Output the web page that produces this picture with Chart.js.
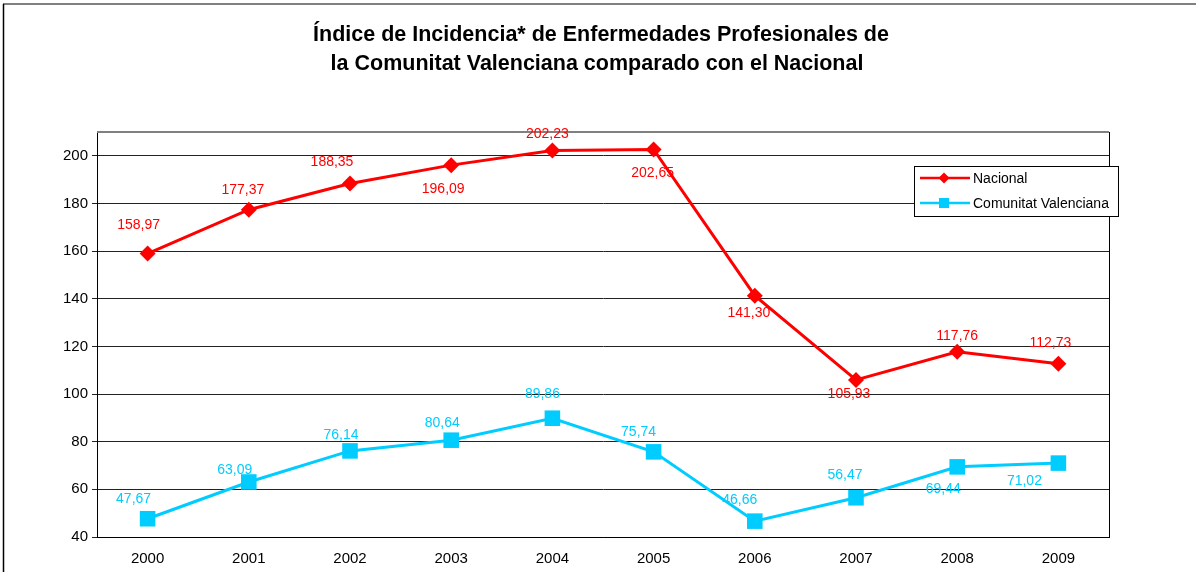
<!DOCTYPE html>
<html>
<head>
<meta charset="utf-8">
<script src="https://cdn.jsdelivr.net/npm/chart.js@4"></script>
<style>
  html, body { margin: 0; padding: 0; background: #fff; }
  #wrap { width: 1196px; height: 572px; position: relative; }
</style>
</head>
<body>
<div id="wrap"><canvas id="myChart" width="1196" height="572"></canvas></div>
<script>
const years = ['2000', '2001', '2002', '2003', '2004', '2005', '2006', '2007', '2008', '2009'];
const nacional = [158.97, 177.37, 188.35, 196.09, 202.23, 202.65, 141.30, 105.93, 117.76, 112.73];
const valenciana = [47.67, 63.09, 76.14, 80.64, 89.86, 75.74, 46.66, 56.47, 69.44, 71.02];
const yTicks = [40, 60, 80, 100, 120, 140, 160, 180, 200];

const titleLines = [
    'Índice de Incidencia* de Enfermedades Profesionales de',
    'la Comunitat Valenciana comparado con el Nacional'
];

const FONT = '"Liberation Sans", Arial, sans-serif';
const RED = '#ff0000';
const CYAN = '#00ccff';

// where each value label sits relative to its point (px)
const labelOffsets = [
    [[-9, -28], [-6, -20], [-18, -21], [-8, 24], [-5, -16], [-1, 24], [-6, 17], [-7, 14], [0, -16], [-8, -21]],
    [[-14, -20], [-14, -12], [-9, -16], [-9, -17], [-10, -24], [-15, -20], [-15, -21], [-11, -23], [-14, 22], [-34, 18]]
];

function fmt(v) {
    return v.toFixed(2).replace('.', ',');
}

const decorPlugin = {
    id: 'decor',
    beforeDraw(chart) {
        const ctx = chart.ctx;
        ctx.save();
        // outer frame
        ctx.strokeStyle = '#808080';
        ctx.lineWidth = 2;
        ctx.beginPath();
        ctx.moveTo(3, 4);
        ctx.lineTo(1196, 4);
        ctx.stroke();
        ctx.strokeStyle = '#000';
        ctx.lineWidth = 1.5;
        ctx.beginPath();
        ctx.moveTo(3.5, 4);
        ctx.lineTo(3.5, 572);
        ctx.stroke();

        // title
        ctx.fillStyle = '#000';
        ctx.font = 'bold 21.5px ' + FONT;
        ctx.textAlign = 'center';
        ctx.textBaseline = 'middle';
        ctx.fillText(titleLines[0], 601, 35);
        ctx.fillText(titleLines[1], 597, 64);
        ctx.restore();
    },
    afterDatasetsDraw(chart) {
        const ctx = chart.ctx;
        const a = chart.chartArea;
        ctx.save();
        // plot border top + right
        ctx.strokeStyle = '#808080';
        ctx.lineWidth = 2;
        ctx.beginPath();
        ctx.moveTo(a.left, a.top);
        ctx.lineTo(a.right, a.top);
        ctx.stroke();
        ctx.strokeStyle = '#000';
        ctx.lineWidth = 1;
        ctx.beginPath();
        ctx.moveTo(a.right + 0.5, a.top);
        ctx.lineTo(a.right + 0.5, a.bottom);
        ctx.stroke();

        // value labels
        ctx.font = '14px ' + FONT;
        ctx.textAlign = 'center';
        ctx.textBaseline = 'middle';
        chart.data.datasets.forEach((ds, di) => {
            const meta = chart.getDatasetMeta(di);
            ctx.fillStyle = ds.borderColor;
            meta.data.forEach((pt, i) => {
                const off = labelOffsets[di][i];
                ctx.fillText(fmt(ds.data[i]), pt.x + off[0], pt.y + off[1]);
            });
        });

        // legend
        const lx = 914, ly = 166, lw = 204, lh = 50;
        ctx.fillStyle = '#fff';
        ctx.fillRect(lx, ly, lw, lh);
        ctx.strokeStyle = '#000';
        ctx.lineWidth = 1;
        ctx.strokeRect(lx + 0.5, ly + 0.5, lw, lh);
        const rows = [178, 203];
        ctx.font = '14px ' + FONT;
        ctx.textAlign = 'left';
        chart.data.datasets.forEach((ds, di) => {
            const y = rows[di];
            ctx.strokeStyle = ds.borderColor;
            ctx.lineWidth = 2.5;
            ctx.beginPath();
            ctx.moveTo(920, y);
            ctx.lineTo(970, y);
            ctx.stroke();
            ctx.fillStyle = ds.borderColor;
            if (di === 0) {
                ctx.beginPath();
                ctx.moveTo(944 - 5.5, y);
                ctx.lineTo(944, y - 5.5);
                ctx.lineTo(944 + 5.5, y);
                ctx.lineTo(944, y + 5.5);
                ctx.closePath();
                ctx.fill();
            } else {
                ctx.fillRect(944 - 5, y - 5, 10, 10);
            }
            ctx.fillStyle = '#000';
            ctx.fillText(ds.label, 973, y + 1);
        });
        ctx.restore();
    }
};

var ctx = document.getElementById('myChart').getContext('2d');
new Chart(ctx, {
    type: 'line',
    data: {
        labels: years,
        datasets: [
            {
                label: 'Nacional',
                data: nacional,
                borderColor: RED,
                backgroundColor: RED,
                borderWidth: 3,
                pointStyle: 'rectRot',
                pointRadius: 8,
                pointBorderWidth: 0,
                pointHoverRadius: 8,
                tension: 0,
                fill: false
            },
            {
                label: 'Comunitat Valenciana',
                data: valenciana,
                borderColor: CYAN,
                backgroundColor: CYAN,
                borderWidth: 3,
                pointStyle: 'rect',
                pointRadius: 11,
                pointBorderWidth: 0,
                pointHoverRadius: 11,
                tension: 0,
                fill: false
            }
        ]
    },
    options: {
        responsive: false,
        animation: false,
        events: [],
        layout: { padding: { left: 0, top: 132, right: 87, bottom: 0 } },
        plugins: {
            legend: { display: false },
            title: { display: false },
            tooltip: { enabled: false }
        },
        scales: {
            x: {
                offset: true,
                grid: { display: false, drawTicks: false },
                border: { display: true, color: '#000', width: 1 },
                ticks: { color: '#000', font: { family: FONT, size: 15 }, padding: 13, maxRotation: 0 },
                afterFit(scale) { scale.height = 35; }
            },
            y: {
                min: 40,
                max: 210,
                afterBuildTicks(scale) {
                    scale.ticks = yTicks.map(v => ({ value: v }));
                },
                grid: { color: '#222', lineWidth: 1, tickLength: 5 },
                border: { display: true, color: '#000', width: 1 },
                ticks: { color: '#000', font: { family: FONT, size: 15 }, padding: 4 },
                afterFit(scale) { scale.width = 97; }
            }
        }
    },
    plugins: [decorPlugin]
});
</script>
</body>
</html>
